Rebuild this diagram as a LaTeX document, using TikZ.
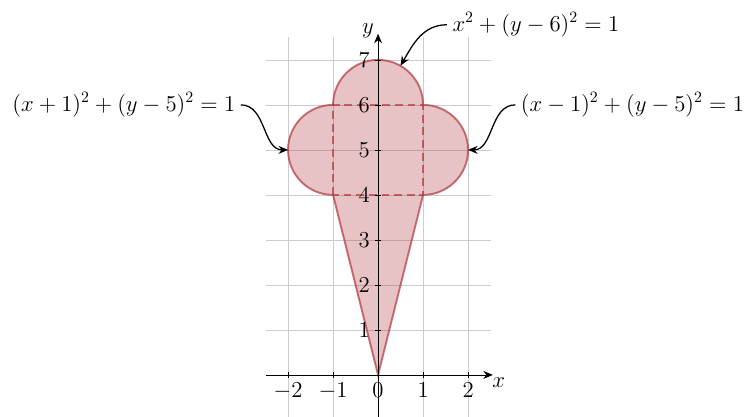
\documentclass[tikz,border=0pt]{standalone}
\usetikzlibrary{arrows.meta}
\definecolor{conered}{RGB}{175,55,62}
\tikzset{
  scoop/.style={conered,line width=1.2pt,fill opacity=0.3,draw opacity=0.7},
  pointer/.style={-{Stealth[length=6pt,width=5pt]},thick},
}

\begin{document}
\begin{tikzpicture}[font=\Large]
  \useasboundingbox (-8.4,-0.93) rectangle (8.33,8.33);
  \draw[gray!40,thin] (-2.5,-0.93) grid (2.5,7.5);
  \filldraw[scoop] (0,0) -- (-1,4) arc[start angle=270,end angle=90,radius=1]
    arc[start angle=180,end angle=0,radius=1]
    arc[start angle=90,end angle=-90,radius=1] -- cycle;
  \draw[scoop,dash pattern=on 5pt off 3pt] (-1,4) rectangle (1,6);
  \draw[-{Stealth[length=6pt,width=5pt]}] (-2.5,0) -- (2.55,0);
  \draw[-{Stealth[length=6pt,width=5pt]}] (0,-0.93) -- (0,7.58);
  \node[below right,inner sep=1pt] (xl) at (2.5,-0.02) {$x$};
  \node[above left,inner sep=1pt] (yl) at (-0.05,7.45) {$y$};
  \foreach \i in {-2,...,2}
    \draw (\i,0.06) -- (\i,-0.06) node[below] (x\i) {$\i$};
  \foreach \j in {1,...,7}
    \draw (0.06,\j) -- (-0.06,\j) node[left] (y\j) {$\j$};
  \coordinate (lc) at (-2,5);
  \coordinate (rc) at (2,5);
  \coordinate (tc) at (0.5,6.87);
  \node[anchor=east] (lb) at (-3.05,6.0) {$(x+1)^2+(y-5)^2=1$};
  \node[anchor=west] (rb) at (3.05,6.0) {$(x-1)^2+(y-5)^2=1$};
  \node[anchor=west] (tb) at (1.53,7.78) {$x^2+(y-6)^2=1$};
  \draw[pointer] (lb.east) to[out=0,in=180] (lc);
  \draw[pointer] (rb.west) to[out=180,in=0] (rc);
  \draw[pointer] (tb.west) to[out=180,in=60] (tc);
\end{tikzpicture}
\end{document}
